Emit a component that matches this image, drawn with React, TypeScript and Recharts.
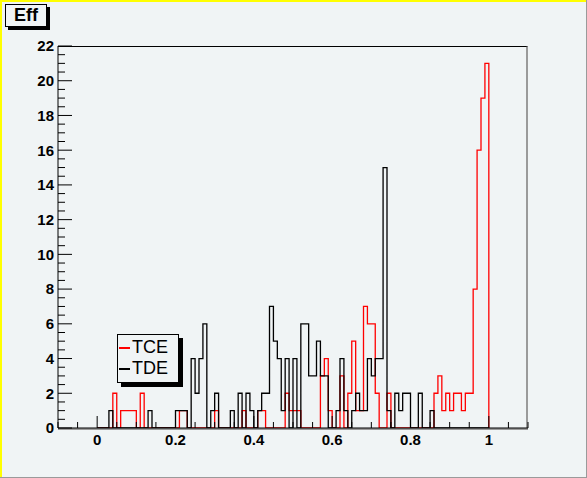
import React from 'react';
import { ComposedChart, Line, XAxis, YAxis } from 'recharts';

// histogram contents, 0.01 wide bins from 0 to 1
const binLow = 0;
const binWidth = 0.01;

const tce = [
  0, 0, 0, 0, 2, 0, 1, 1, 1, 1,
  0, 2, 0, 0, 0, 0, 0, 0, 0, 0,
  0, 1, 1, 0, 0, 0, 0, 0, 0, 0,
  1, 0, 0, 0, 0, 0, 0, 1, 0, 0,
  0, 1, 1, 0, 0, 0, 0, 0, 2, 1,
  1, 1, 0, 0, 0, 0, 0, 3, 4, 1,
  0, 0, 3, 0, 2, 5, 1, 1, 7, 6,
  6, 2, 0, 0, 2, 0, 0, 0, 0, 0,
  0, 0, 0, 0, 0, 0, 2, 3, 1, 2,
  1, 2, 2, 1, 2, 2, 8, 16, 19, 21,
];

const tde = [
  0, 0, 0, 1, 0, 0, 0, 0, 0, 0,
  0, 0, 0, 1, 0, 0, 0, 0, 0, 0,
  1, 1, 1, 0, 4, 2, 4, 6, 0, 1,
  2, 0, 0, 0, 1, 0, 2, 0, 2, 1,
  0, 1, 2, 2, 7, 5, 4, 1, 4, 0,
  4, 0, 6, 6, 3, 3, 5, 3, 3, 0,
  0, 1, 4, 1, 0, 1, 2, 1, 1, 4,
  3, 4, 4, 15, 1, 0, 2, 1, 2, 2,
  0, 0, 2, 0, 0, 1, 0, 0, 0, 0,
  0, 0, 0, 0, 0, 0, 0, 0, 0, 0,
];

const seriesNames = ['TCE', 'TDE'];
const seriesColors = ['#ff0000', '#000000'];

const xMajorTicks = [0, 0.2, 0.4, 0.6, 0.8, 1];
const xTickLabels = ['0', '0.2', '0.4', '0.6', '0.8', '1'];
const yMajorTicks = [0, 2, 4, 6, 8, 10, 12, 14, 16, 18, 20, 22];

// minor ticks: 4 divisions per major step
const xTicks: number[] = [];
for (let i = -2; i <= 22; i++) xTicks.push(Math.round(i * 5) / 100);
const yTicks: number[] = [];
for (let i = 0; i <= 44; i++) yTicks.push(i / 2);

const rows = tce.map((v, k) => ({ x: +(binLow + k * binWidth).toFixed(2), TCE: v, TDE: tde[k] }));
rows.push({ x: binLow + tce.length * binWidth, TCE: 0, TDE: 0 });

const bg = '#f0f4f5';
const font = '"Liberation Sans", Arial, Helvetica, sans-serif';

const XTick = (props: any) => {
  const { x, y, payload } = props;
  const idx = xMajorTicks.findIndex((t) => Math.abs(t - payload.value) < 1e-6);
  const major = idx >= 0;
  return (
    <g>
      <line x1={x} x2={x} y1={y} y2={y - (major ? 12 : 6)} stroke="#000" strokeWidth={1} />
      {major && (
        <text x={x} y={y + 17} textAnchor="middle" fontSize={15} fontWeight="bold" fontFamily={font} fill="#000">
          {xTickLabels[idx]}
        </text>
      )}
    </g>
  );
};

const YTick = (props: any) => {
  const { x, y, payload } = props;
  const major = yMajorTicks.includes(payload.value);
  return (
    <g>
      <line x1={x} x2={x + (major ? 14 : 7)} y1={y} y2={y} stroke="#000" strokeWidth={1} />
      {major && (
        <text x={x - 4} y={y} dy="0.36em" textAnchor="end" fontSize={15} fontWeight="bold" fontFamily={font} fill="#000">
          {payload.value}
        </text>
      )}
    </g>
  );
};

export default function App() {
  return (
    <div style={{ position: 'absolute', left: 0, top: 0, width: 587, height: 478, background: bg, overflow: 'hidden', fontFamily: font }}>
      {/* canvas border */}
      <div style={{ position: 'absolute', left: 0, top: 0, width: 587, height: 2, background: '#ffff00' }} />
      <div style={{ position: 'absolute', left: 0, top: 0, width: 2, height: 478, background: '#ffff00' }} />
      <div style={{ position: 'absolute', right: 0, top: 0, width: 1, height: 478, background: '#9a9a9a' }} />
      <div style={{ position: 'absolute', left: 0, bottom: 0, width: 587, height: 1, background: '#9a9a9a' }} />

      {/* frame */}
      <div style={{ position: 'absolute', left: 58, top: 46, width: 470, height: 384, boxSizing: 'border-box', borderTop: '1px solid #000', borderRight: '2px solid #9a9a9a', borderBottom: '2px solid #9a9a9a' }} />

      {/* title */}
      <div style={{ position: 'absolute', left: 8, top: 7, width: 42, height: 23, background: '#000' }} />
      <div style={{ position: 'absolute', left: 5, top: 4, width: 42, height: 23, boxSizing: 'border-box', border: '1px solid #000', background: bg, fontWeight: 'bold', fontSize: 18, lineHeight: '21px', textAlign: 'center' }}>
        Eff
      </div>

      <ComposedChart width={587} height={478} data={rows} margin={{ top: 46, right: 59, bottom: 0, left: 0 }} style={{ position: 'absolute', left: 0, top: 0 }}>
        <XAxis dataKey="x" type="number" domain={[-0.1, 1.1]} ticks={xTicks} interval={0} tickSize={0} tickMargin={0}
          tick={(p: any) => <XTick {...p} />} height={50} axisLine={{ stroke: '#000' }} allowDataOverflow />
        <YAxis type="number" domain={[0, 22]} ticks={yTicks} interval={0} tickSize={0} tickMargin={0}
          tick={(p: any) => <YTick {...p} />} width={58} axisLine={{ stroke: '#000' }} allowDataOverflow />
        <Line type="stepAfter" dataKey="TCE" stroke={seriesColors[0]} strokeWidth={1.3} dot={false} activeDot={false} isAnimationActive={false} />
        <Line type="stepAfter" dataKey="TDE" stroke={seriesColors[1]} strokeWidth={1.3} dot={false} activeDot={false} isAnimationActive={false} />
      </ComposedChart>

      {/* legend */}
      <div style={{ position: 'absolute', left: 117, top: 334, width: 62, height: 49, boxSizing: 'border-box', border: '1px solid #000', background: bg, boxShadow: '4px 4px 0 #000' }}>
        {seriesNames.map((name, i) => (
          <div key={name} style={{ position: 'absolute', left: 1, top: 2 + i * 21, height: 21, display: 'flex', alignItems: 'center', fontSize: 18 }}>
            <span style={{ display: 'inline-block', width: 11, height: 2, background: seriesColors[i], marginRight: 2 }} />
            <span>{name}</span>
          </div>
        ))}
      </div>
    </div>
  );
}
